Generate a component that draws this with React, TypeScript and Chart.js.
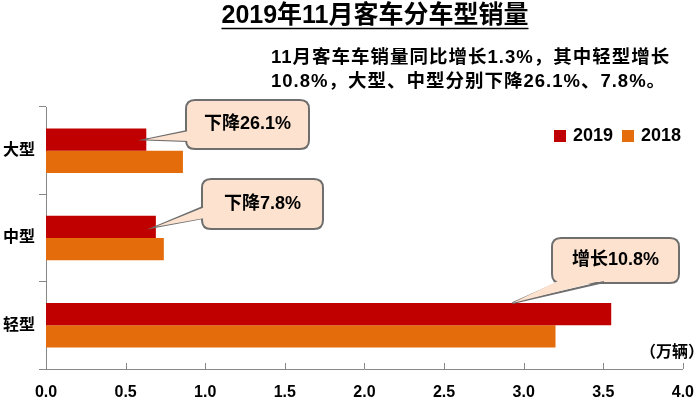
import React, { useEffect, useRef } from 'react';
import { Chart, registerables } from 'chart.js';

Chart.register(...registerables);

const categories = ['大型', '中型', '轻型'];
const sales2019 = [0.63, 0.69, 3.55];
const sales2018 = [0.86, 0.74, 3.2];
const seriesNames = ['2019', '2018'];
const seriesColors = ['#C00000', '#E46C0A'];
const xTickValues = [0, 0.5, 1, 1.5, 2, 2.5, 3, 3.5, 4];
const xTickLabels = ['0.0', '0.5', '1.0', '1.5', '2.0', '2.5', '3.0', '3.5', '4.0'];
const titleText = '2019年11月客车分车型销量';
const noteLines = ['11月客车车销量同比增长1.3%，其中轻型增长', '10.8%，大型、中型分别下降26.1%、7.8%。'];
const unitText = '（万辆）';
const calloutTexts = ['下降26.1%', '下降7.8%', '增长10.8%'];
const calloutCategory = [0, 1, 2];
const calloutValue = [0.63, 0.69, 2.93];

const FONT = '"Liberation Sans", "Noto Sans CJK SC", sans-serif';

function roundRect(ctx: CanvasRenderingContext2D, x: number, y: number, w: number, h: number, r: number) {
  ctx.beginPath();
  ctx.moveTo(x + r, y);
  ctx.lineTo(x + w - r, y);
  ctx.quadraticCurveTo(x + w, y, x + w, y + r);
  ctx.lineTo(x + w, y + h - r);
  ctx.quadraticCurveTo(x + w, y + h, x + w - r, y + h);
  ctx.lineTo(x + r, y + h);
  ctx.quadraticCurveTo(x, y + h, x, y + h - r);
  ctx.lineTo(x, y + r);
  ctx.quadraticCurveTo(x, y, x + r, y);
  ctx.closePath();
}

const decorPlugin = {
  id: 'decor',
  afterDraw(chart: any) {
    const ctx: any = chart.ctx;
    const xs = chart.scales.x;
    const area = chart.chartArea;
    ctx.save();

    // inward x tick marks
    ctx.strokeStyle = '#888';
    ctx.lineWidth = 1;
    xTickValues.forEach((v) => {
      const px = Math.round(xs.getPixelForValue(v)) + 0.5;
      ctx.beginPath();
      ctx.moveTo(px, area.bottom - 6);
      ctx.lineTo(px, area.bottom);
      ctx.stroke();
    });

    // title
    ctx.fillStyle = '#000';
    ctx.font = `bold 25px ${FONT}`;
    ctx.textAlign = 'center';
    ctx.textBaseline = 'alphabetic';
    const tx = 375;
    const ty = 23;
    ctx.fillText(titleText, tx, ty);
    const tw = ctx.measureText(titleText).width;
    ctx.strokeStyle = '#000';
    ctx.lineWidth = 1.6;
    ctx.beginPath();
    ctx.moveTo(tx - tw / 2, ty + 5.5);
    ctx.lineTo(tx + tw / 2, ty + 5.5);
    ctx.stroke();

    // note text
    ctx.font = `bold 18.5px ${FONT}`;
    ctx.letterSpacing = '1px';
    ctx.textAlign = 'left';
    ctx.textBaseline = 'middle';
    ctx.fillText(noteLines[0], 271, 58);
    ctx.fillText(noteLines[1], 271, 82);
    ctx.letterSpacing = '0px';

    // legend
    ctx.font = `bold 18px ${FONT}`;
    const legendX = [554, 622];
    seriesNames.forEach((name, i) => {
      ctx.fillStyle = seriesColors[i];
      ctx.fillRect(legendX[i], 130, 12, 12);
      ctx.fillStyle = '#000';
      ctx.fillText(name, legendX[i] + 19, 136);
    });

    // unit
    ctx.font = `bold 16px ${FONT}`;
    ctx.textAlign = 'right';
    ctx.fillText(unitText, 704, 353);

    // callouts
    const boxes = [
      { x: 186, y: 100, w: 123, h: 49, base: [[187, 131], [187, 141]] },
      { x: 202, y: 179, w: 121, h: 50, base: [[203, 207], [203, 218]] },
      { x: 552, y: 238, w: 127, h: 45, base: [[560, 282], [604, 282]] },
    ];
    const meta = chart.getDatasetMeta(0);
    boxes.forEach((b, i) => {
      const bar = meta.data[calloutCategory[i]];
      const tipX = xs.getPixelForValue(calloutValue[i]);
      const tipY = i === 2 ? bar.y - bar.height / 2 : bar.y;
      ctx.fillStyle = '#FDE3CF';
      ctx.strokeStyle = '#6E6E6E';
      ctx.lineWidth = 2;
      roundRect(ctx, b.x, b.y, b.w, b.h, 9);
      ctx.fill();
      ctx.stroke();
      // pointer
      ctx.beginPath();
      ctx.moveTo(b.base[0][0], b.base[0][1]);
      ctx.lineTo(tipX, tipY);
      ctx.lineTo(b.base[1][0], b.base[1][1]);
      ctx.stroke();
      ctx.beginPath();
      ctx.moveTo(b.base[0][0] + (i === 2 ? 0 : 2), b.base[0][1] - (i === 2 ? 2 : 0));
      ctx.lineTo(tipX, tipY);
      ctx.lineTo(b.base[1][0] + (i === 2 ? 0 : 2), b.base[1][1] - (i === 2 ? 2 : 0));
      ctx.closePath();
      ctx.fill();
      ctx.fillStyle = '#000';
      ctx.font = `bold 18px ${FONT}`;
      ctx.textAlign = 'center';
      ctx.textBaseline = 'middle';
      ctx.fillText(calloutTexts[i], b.x + b.w / 2, b.y + b.h / 2);
    });

    ctx.restore();
  },
};

export default function App() {
  const ref = useRef<HTMLCanvasElement>(null);
  useEffect(() => {
    if (!ref.current) return;
    const chart = new Chart(ref.current, {
      type: 'bar',
      data: {
        labels: categories,
        datasets: [
          { label: seriesNames[0], data: sales2019, backgroundColor: seriesColors[0], barPercentage: 1, categoryPercentage: 0.51 },
          { label: seriesNames[1], data: sales2018, backgroundColor: seriesColors[1], barPercentage: 1, categoryPercentage: 0.51 },
        ],
      },
      options: {
        indexAxis: 'y',
        responsive: false,
        animation: false,
        events: [],
        layout: { padding: { top: 107, right: 14, left: 0, bottom: 0 } },
        plugins: { legend: { display: false }, title: { display: false }, tooltip: { enabled: false } },
        scales: {
          x: {
            min: 0,
            max: 4,
            afterBuildTicks: (s: any) => {
              s.ticks = xTickValues.map((v) => ({ value: v }));
            },
            ticks: {
              autoSkip: false,
              maxRotation: 0,
              padding: 6,
              color: '#000',
              font: { family: FONT, size: 16, weight: 'bold' },
              callback: (_v: any, i: number) => xTickLabels[i],
            },
            grid: { display: false },
            border: { display: true, color: '#888', width: 1 },
            afterFit: (s: any) => {
              s.height = 30;
            },
          },
          y: {
            ticks: { padding: 4, color: '#000', font: { family: FONT, size: 16, weight: 'bold' } },
            grid: { drawOnChartArea: false, tickLength: 7, color: '#888', offset: true },
            border: { display: true, color: '#888', width: 1 },
            afterFit: (s: any) => {
              s.width = 46;
            },
          },
        },
      } as any,
      plugins: [decorPlugin],
    });
    return () => chart.destroy();
  }, []);
  return (
    <div style={{ position: 'absolute', left: 0, top: 0, width: 700, height: 399, background: '#fff' }}>
      <canvas ref={ref} width={700} height={399} style={{ display: 'block' }} />
    </div>
  );
}
